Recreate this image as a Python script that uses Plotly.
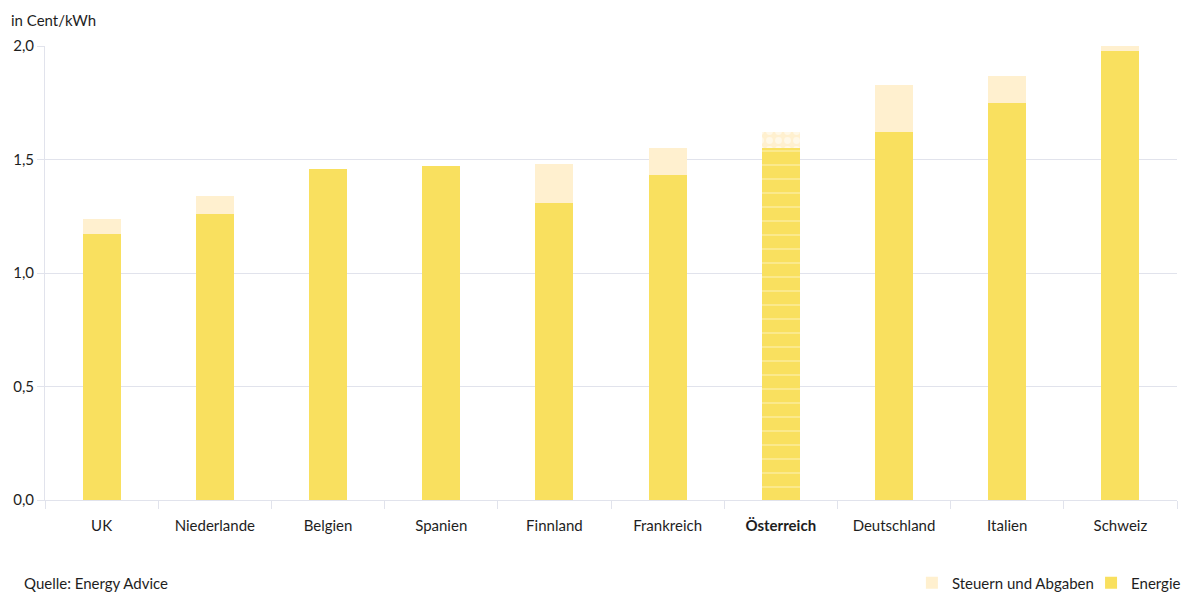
import plotly.graph_objects as go

# Strompreis-Komponenten je Land (Cent/kWh)
laender = ["UK", "Niederlande", "Belgien", "Spanien", "Finnland",
           "Frankreich", "Österreich", "Deutschland", "Italien", "Schweiz"]
energie = [1.17, 1.26, 1.46, 1.47, 1.31, 1.43, 1.55, 1.62, 1.75, 1.98]
steuern = [0.07, 0.08, 0.0, 0.0, 0.17, 0.12, 0.07, 0.21, 0.12, 0.02]
hervorgehoben = "Österreich"

y_ticks = [0.0, 0.5, 1.0, 1.5, 2.0]

FARBE_ENERGIE = "#F9E05F"
FARBE_STEUERN = "#FFF0CF"
GRID = "#E1E3EC"
TEXT = "#1E1E1E"
FONT = "Lato, 'Open Sans', sans-serif"
FS = 15

tick_text = [f"<b>{l}</b>" if l == hervorgehoben else l for l in laender]
muster_energie = ["-" if l == hervorgehoben else "" for l in laender]
muster_steuern = ["." if l == hervorgehoben else "" for l in laender]

fig = go.Figure()
fig.add_trace(go.Bar(
    x=laender, y=energie, name="Energie", legend="legend2",
    marker=dict(color=FARBE_ENERGIE, line=dict(width=0),
                pattern=dict(shape=muster_energie, fgcolor="white",
                             size=14, solidity=0.08)),
))
fig.add_trace(go.Bar(
    x=laender, y=steuern, name="Steuern und Abgaben", legend="legend",
    marker=dict(color=FARBE_STEUERN, line=dict(width=0),
                pattern=dict(shape=muster_steuern, fgcolor="white",
                             size=9, solidity=0.45)),
))

legend_style = dict(orientation="h", yanchor="middle", y=-0.183, xanchor="right",
                    font=dict(size=FS, color=TEXT), itemwidth=30,
                    bgcolor="rgba(0,0,0,0)")

fig.update_layout(
    width=1184, height=592,
    margin=dict(l=45, r=7, t=46, b=92, autoexpand=False),
    paper_bgcolor="white", plot_bgcolor="white",
    barmode="stack", bargap=0.664,
    separators=",.",
    font=dict(family=FONT, size=FS, color=TEXT),
    showlegend=True,
    legend=dict(x=0.931, **legend_style),
    legend2=dict(x=1.008, **legend_style),
    xaxis=dict(
        tickmode="array", tickvals=laender, ticktext=tick_text,
        tickson="boundaries", ticks="outside", ticklen=8, tickcolor=GRID,
        ticklabelstandoff=12,
        showline=True, linecolor=GRID, linewidth=1, automargin=False,
        showgrid=False, tickfont=dict(size=FS, color=TEXT),
    ),
    yaxis=dict(
        range=[0, 2.0], tickvals=y_ticks, tickformat=".1f",
        ticks="outside", ticklen=7, tickcolor=GRID, automargin=False,
        showgrid=True, gridcolor=GRID, gridwidth=1,
        showline=True, linecolor=GRID, linewidth=1,
        zeroline=False, tickfont=dict(size=FS, color=TEXT),
    ),
    annotations=[
        dict(text="in Cent/kWh", xref="paper", yref="paper", x=0, y=1,
             xshift=-36, yshift=26, xanchor="left", yanchor="middle",
             showarrow=False, font=dict(size=FS, color=TEXT)),
        dict(text="Quelle: Energy Advice", xref="paper", yref="paper", x=0, y=0,
             xshift=-23, yshift=-83, xanchor="left", yanchor="middle",
             showarrow=False, font=dict(size=FS, color=TEXT)),
    ],
)

fig.write_html("out.html")
